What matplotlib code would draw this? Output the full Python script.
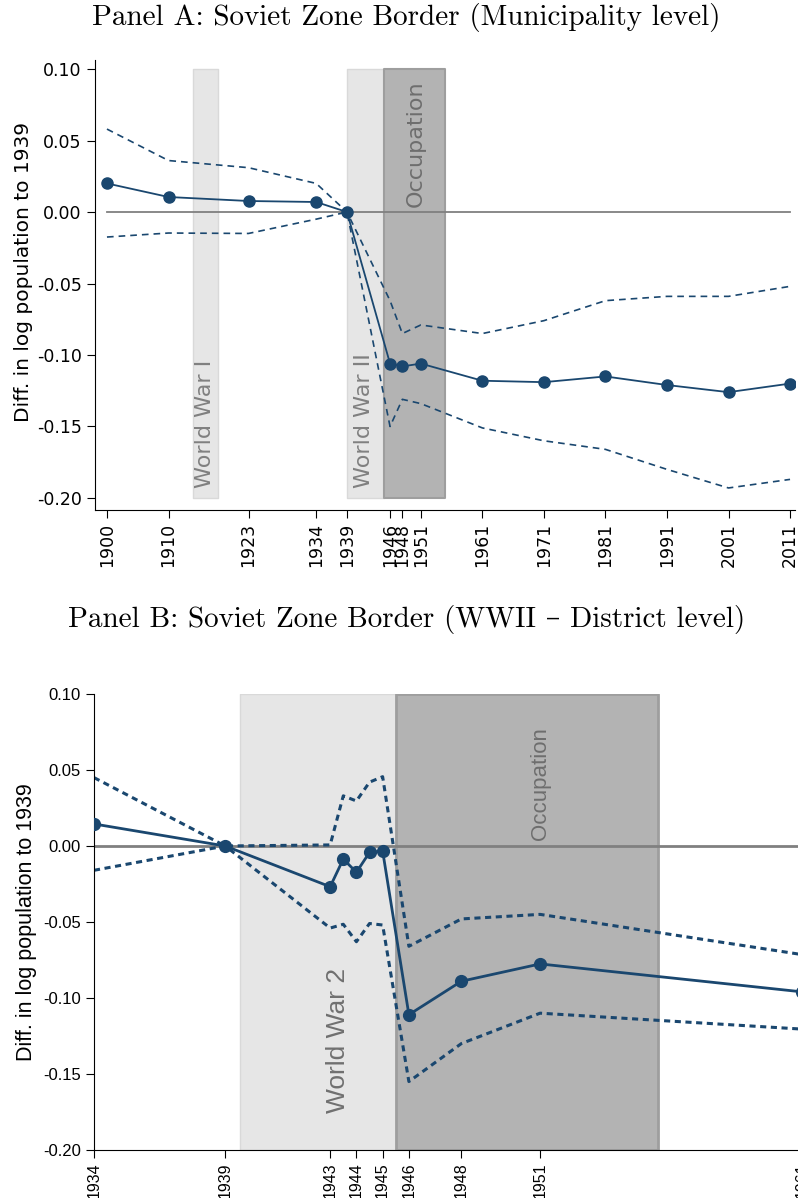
import matplotlib
matplotlib.use('Agg')
import matplotlib.pyplot as plt

# Panel A data (municipality level)
years_a = [1900, 1910, 1923, 1934, 1939, 1946, 1948, 1951, 1961, 1971, 1981, 1991, 2001, 2011]
coef_a = [0.020, 0.0105, 0.0077, 0.007, 0.0, -0.106, -0.108, -0.106, -0.118, -0.119, -0.115, -0.121, -0.126, -0.120]
hi_a = [0.058, 0.036, 0.031, 0.020, 0.0, -0.062, -0.085, -0.079, -0.085, -0.076, -0.062, -0.059, -0.059, -0.052]
lo_a = [-0.0175, -0.0147, -0.015, -0.005, 0.0, -0.150, -0.131, -0.134, -0.151, -0.160, -0.166, -0.180, -0.193, -0.187]
yticks_a = [0.10, 0.05, 0.00, -0.05, -0.10, -0.15, -0.20]

# Panel B data (district level, WWII)
years_b = [1934, 1939, 1943, 1943.5, 1944, 1944.5, 1945, 1946, 1948, 1951, 1961]
coef_b = [0.0145, 0.0, -0.0268, -0.0086, -0.0173, -0.0042, -0.0033, -0.111, -0.089, -0.0776, -0.096]
hi_b = [0.045, 0.0, 0.0007, 0.033, 0.0296, 0.042, 0.0456, -0.066, -0.048, -0.045, -0.0715]
lo_b = [-0.016, 0.0, -0.054, -0.0515, -0.063, -0.051, -0.052, -0.155, -0.130, -0.110, -0.1205]
xticks_b = [1934, 1939, 1943, 1944, 1945, 1946, 1948, 1951, 1961]
yticks_b = [0.10, 0.05, 0.00, -0.05, -0.10, -0.15, -0.20]

navy = '#1a476f'
light = '#e6e6e6'
dark = '#b3b3b3'
title_font = ['cmr10', 'DejaVu Serif']

fig = plt.figure(figsize=(7.98, 11.98), dpi=100)

# ---- Panel A ----
ax1 = fig.add_axes([0.119, 0.5743, 0.8772, 0.3756])
ax1.fill_between([1914, 1918], -0.2, 0.1, color=light, ec='#d9d9d9', lw=1, zorder=0)
ax1.fill_between([1939, 1945], -0.2, 0.1, color=light, ec='#d9d9d9', lw=1, zorder=0)
ax1.fill_between([1945, 1955], -0.2, 0.1, color=dark, ec='#9e9e9e', lw=1.5, zorder=0)
ax1.plot([1900, 2011], [0, 0], color='#808080', lw=1.3, zorder=1)
ax1.plot(years_a, hi_a, color=navy, lw=1.2, ls=(0, (4, 3)), zorder=2)
ax1.plot(years_a, lo_a, color=navy, lw=1.2, ls=(0, (4, 3)), zorder=2)
ax1.plot(years_a, coef_a, color=navy, lw=1.3, marker='o', ms=8, zorder=3)
ax1.text(1916, -0.193, 'World War I', rotation=90, ha='center', va='bottom', color='#808080', fontsize=16)
ax1.text(1941.8, -0.193, 'World War II', rotation=90, ha='center', va='bottom', color='#808080', fontsize=16)
ax1.text(1950.1, 0.092, 'Occupation', rotation=90, ha='center', va='top', color='#6e6e6e', fontsize=16)
ax1.set_xlim(1898.05, 2011.8)
ax1.set_ylim(-0.2084, 0.1063)
ax1.set_xticks(years_a)
ax1.set_xticklabels([str(y) for y in years_a], rotation=90, fontsize=12.5)
ax1.set_yticks(yticks_a)
ax1.set_yticklabels(['%.2f' % v for v in yticks_a], fontsize=12.5)
ax1.set_ylabel('Diff. in log population to 1939', fontsize=14.5)
ax1.yaxis.set_label_coords(-0.088, 0.53)
for s in ['top', 'right']:
    ax1.spines[s].set_visible(False)
ax1.tick_params(direction='out', length=6)
fig.text(0.509, 0.985, 'Panel A: Soviet Zone Border (Municipality level)', ha='center', va='center',
         fontsize=21, family=title_font)

# ---- Panel B ----
ax2 = fig.add_axes([0.1178, 0.0401, 0.9207, 0.3806])
ax2.fill_between([1939.55, 1945.5], -0.2, 0.1, color=light, ec='#d9d9d9', lw=1, zorder=0)
ax2.fill_between([1945.5, 1955.5], -0.2, 0.1, color=dark, ec='#9e9e9e', lw=2, zorder=0)
ax2.axhline(0, color='#808080', lw=2, zorder=1)
ax2.plot(years_b, hi_b, color=navy, lw=2.2, ls=(0, (2, 1.5)), zorder=2)
ax2.plot(years_b, lo_b, color=navy, lw=2.2, ls=(0, (2, 1.5)), zorder=2)
ax2.plot(years_b, coef_b, color=navy, lw=2, marker='o', ms=8.5, zorder=3)
ax2.text(1943.3, -0.176, 'World War 2', rotation=90, ha='center', va='bottom', color='#707070',
         fontsize=19, family='Liberation Sans')
ax2.text(1951.0, 0.078, 'Occupation', rotation=90, ha='center', va='top', color='#6e6e6e',
         fontsize=16, family='Liberation Sans')
ax2.set_xlim(1934, 1962)
ax2.set_ylim(-0.2, 0.1)
ax2.set_xticks(xticks_b)
ax2.set_xticklabels([str(y) for y in xticks_b], rotation=90, fontsize=11.5, family='Liberation Sans')
ax2.set_yticks(yticks_b)
ax2.set_yticklabels(['%.2f' % v for v in yticks_b], fontsize=12, family='Liberation Sans')
ax2.set_ylabel('Diff. in log population to 1939', fontsize=15.5, family='Liberation Sans')
for s in ['top', 'right']:
    ax2.spines[s].set_visible(False)
ax2.tick_params(direction='out', length=6)
ax2.tick_params(axis='x', pad=3)
fig.text(0.509, 0.4825, 'Panel B: Soviet Zone Border (WWII \u2013 District level)', ha='center', va='center',
         fontsize=21, family=title_font)

fig.savefig('out.png', dpi=100)
